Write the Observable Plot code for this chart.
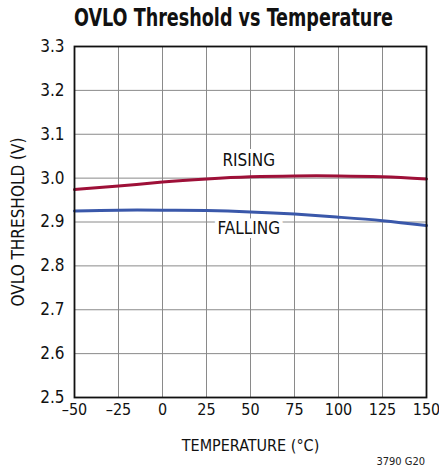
<!DOCTYPE html>
<html>
<head>
<meta charset="utf-8">
<script src="https://cdn.jsdelivr.net/npm/d3@7"></script>
<script src="https://cdn.jsdelivr.net/npm/@observablehq/plot@0.6"></script>
<style>
  html, body { margin: 0; padding: 0; background: #fff; }
  body { width: 439px; height: 470px; position: relative; overflow: hidden;
         font-family: "DejaVu Sans", sans-serif; font-stretch: condensed; }
  #title { height: 36px; line-height: 36px; font-size: 25px; font-weight: bold; color: #111;
           white-space: nowrap; position: relative; }
  #title span { display: inline-block; position: absolute; left: 74px; top: 0; transform-origin: 0 50%; }
  #note { position: absolute; right: 14px; top: 455px; font-size: 11px; color: #222; }
</style>
</head>
<body>
<div id="title"><span id="tt">OVLO Threshold vs Temperature</span></div>
<div id="chart"></div>
<div id="note">3790 G20</div>
<script>
const temps = [-50, -25, 0, 25, 50, 75, 100, 125, 150];
const rising = [2.974, 2.982, 2.991, 2.998, 3.003, 3.005, 3.005, 3.003, 2.998];
const falling = [2.925, 2.927, 2.927, 2.926, 2.923, 2.918, 2.911, 2.903, 2.892];
const xTicks = [-50, -25, 0, 25, 50, 75, 100, 125, 150];
const yTicks = [2.5, 2.6, 2.7, 2.8, 2.9, 3.0, 3.1, 3.2, 3.3];
const seriesLabels = [
  {name: "RISING", t: 49, v: 3.04},
  {name: "FALLING", t: 49, v: 2.884}
];

const risingData = temps.map((t, i) => ({t, v: rising[i]}));
const fallingData = temps.map((t, i) => ({t, v: falling[i]}));

const font = '"DejaVu Sans", sans-serif';

const chart = Plot.plot({
  width: 439,
  height: 434,
  marginLeft: 74,
  marginRight: 13,
  marginTop: 10,
  marginBottom: 73,
  style: {fontFamily: font, fontSize: "17px", color: "#111", background: "#fff", fontStretch: "condensed"},
  x: {domain: [-50, 150], ticks: xTicks},
  y: {domain: [2.5, 3.3], ticks: yTicks},
  marks: [
    Plot.ruleX(xTicks, {stroke: "#8a8a8a", strokeWidth: 1}),
    Plot.ruleY(yTicks, {stroke: "#8a8a8a", strokeWidth: 1}),
    Plot.line(risingData, {x: "t", y: "v", stroke: "#9e1038", strokeWidth: 3, curve: "natural"}),
    Plot.line(fallingData, {x: "t", y: "v", stroke: "#3a58aa", strokeWidth: 3, curve: "natural"}),
    Plot.text(seriesLabels, {x: "t", y: "v", text: "name", fontSize: 17, fill: "#111",
      stroke: "white", strokeWidth: 8, strokeLinejoin: "round", paintOrder: "stroke"}),
    Plot.frame({stroke: "#111", strokeWidth: 1.8}),
    Plot.axisX({ticks: xTicks, tickSize: 0, tickPadding: 6, fontSize: 16,
      tickFormat: d => (d < 0 ? "\u2013" + Math.abs(d) : String(d)),
      label: "TEMPERATURE (°C)", labelAnchor: "center", labelArrow: "none", labelOffset: 53}),
    Plot.axisY({ticks: yTicks, tickSize: 0, tickPadding: 10, fontSize: 17,
      tickFormat: d3.format(".1f"),
      label: "OVLO THRESHOLD (V)", labelAnchor: "center", labelArrow: "none", labelOffset: 63})
  ]
});
chart.querySelectorAll("text").forEach(t => { t.style.fontFamily = font; t.style.fontStretch = "condensed"; });
document.getElementById("chart").appendChild(chart);
const tt = document.getElementById("tt");
const w = tt.getBoundingClientRect().width;
tt.style.transform = `scaleX(${319 / w})`;
</script>
</body>
</html>
